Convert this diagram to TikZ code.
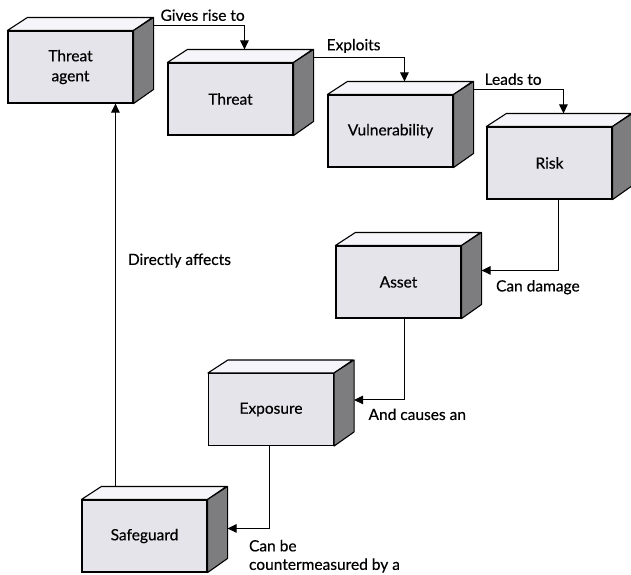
\documentclass[tikz,border=0pt]{standalone}
\usepackage{fontspec}
\setmainfont{Lato}[FakeBold=0.4]
\usetikzlibrary{arrows.meta}

\definecolor{facefront}{RGB}{228,228,234}
\definecolor{facetop}{RGB}{246,246,250}
\definecolor{faceside}{RGB}{125,125,128}

\tikzset{
  crate/.style={draw, line width=1.1pt, fill=facefront, minimum width=125pt,
    minimum height=72pt, inner sep=0pt, align=center,
    font=\fontsize{15.5}{20}\selectfont},
  link/.style={line width=1pt, -{Triangle[length=9pt,width=8.5pt]}},
  tag/.style={font=\fontsize{15.5}{18.5}\selectfont, inner sep=0pt, align=left}
}

% front face as a node, top and side faces drawn round it
\newcommand{\cratebox}[3]{%
  \node[crate] (#1) at (#2) {#3};
  \draw[line width=1.1pt, fill=facetop, line join=round] (#1.north west) -- ++(20,-13) -- ++(125,0) -- (#1.north east) -- cycle;
  \draw[line width=1.1pt, fill=faceside, line join=round] (#1.north east) -- ++(20,-13) -- ++(0,72) -- (#1.south east) -- cycle;
  \coordinate (#1-out) at ([shift={(20,-5)}]#1.north east);
  \coordinate (#1-in) at ([shift={(77,-13)}]#1.north west);
  \coordinate (#1-side) at ([shift={(20,24)}]#1.north east);
}

\begin{document}
\begin{tikzpicture}[x=1pt, y=-1pt]
  \useasboundingbox (0,0) rectangle (631,574);

  \cratebox{agent}{70.5,67}{Threat\\agent}
  \cratebox{threat}{230.5,99}{Threat}
  \cratebox{vuln}{390.5,131}{Vulnerability}
  \cratebox{risk}{549.5,163}{Risk}
  \cratebox{asset}{398.5,282}{Asset}
  \cratebox{exposure}{271,409.5}{Exposure}
  \cratebox{safeguard}{144.5,536}{Safeguard}

  % chain along the top
  \draw[link] (agent-out) -| (threat-in) node[pos=0.27, above=4pt, tag] {Gives rise to};
  \draw[link] (threat-out) -| (vuln-in) node[pos=0.22, above=4pt, tag] {Exploits};
  \draw[link] (vuln-out) -| (risk-in) node[pos=0.22, above=4pt, tag] {Leads to};

  % steps down to the left
  \draw[link] ([xshift=8.5pt]risk.south) |- ([yshift=-1pt]asset-side)
    node[tag, anchor=base west, xshift=14pt, yshift=-21pt] {Can damage};
  \draw[link] ([xshift=5.5pt]asset.south) |- ([yshift=-3pt]exposure-side)
    node[tag, anchor=base west, xshift=14pt, yshift=-20pt] {And causes an};
  \draw[link] ([xshift=-1.5pt]exposure.south) |- ([yshift=-5pt]safeguard-side)
    node[tag, anchor=north west, xshift=21pt, yshift=-11pt] {Can be\\countermeasured by a};

  % back up to the agent
  \coordinate (safeguard-up) at ([shift={(34,-13)}]safeguard.north west);
  \draw[link] (safeguard-up) -- (safeguard-up |- agent.south)
    node[pos=0.59, right=12pt, tag] {Directly affects};
\end{tikzpicture}
\end{document}
